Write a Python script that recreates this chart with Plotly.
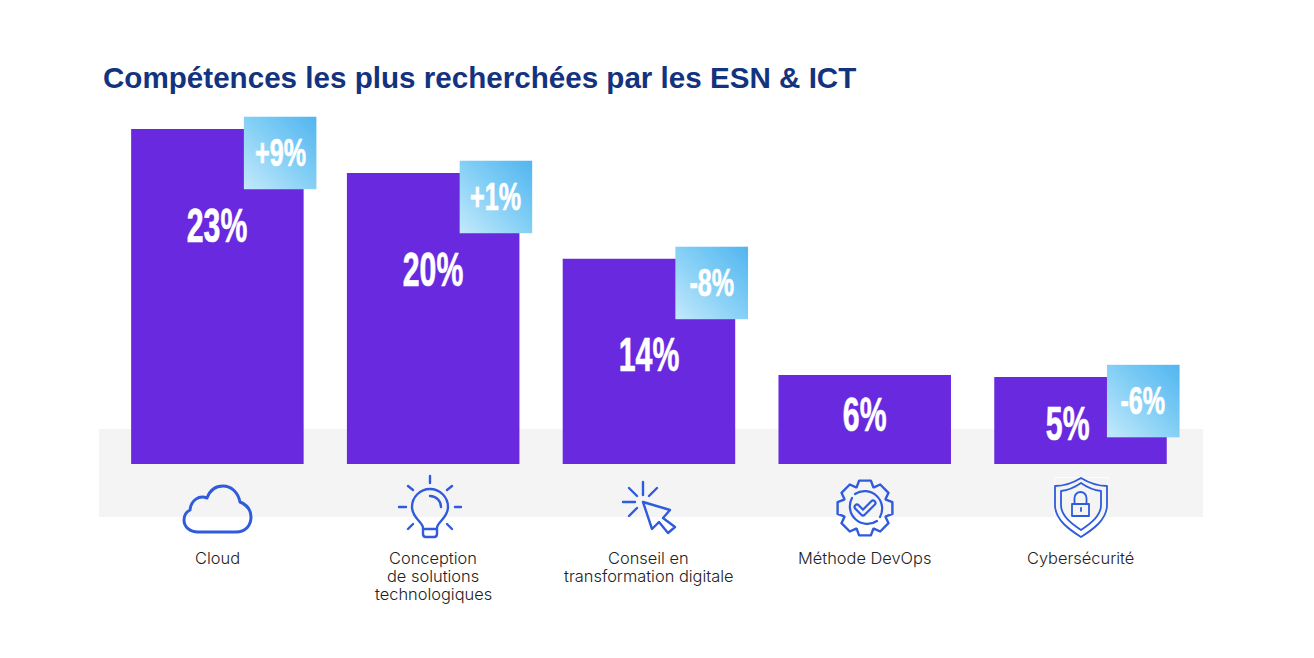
import base64
import math
import plotly.graph_objects as go

# ---- data ----
categories = ["Cloud", "Conception\nde solutions\ntechnologiques", "Conseil en\ntransformation digitale",
              "Méthode DevOps", "Cybersécurité"]
bar_heights = [23.0, 19.98, 14.08, 6.1, 5.97]
bar_labels = ["23%", "20%", "14%", "6%", "5%"]
deltas = ["+9%", "+1%", "-8%", None, "-6%"]
title_text = "Compétences les plus recherchées par les ESN & ICT"

# ---- styling ----
PURPLE = "#6829DF"
BLUE = "#2F5BDC"
NAVY = "#14337F"
BAND = "#F4F4F4"
W, H = 1314, 658
X0, X1 = 109.5, 1188.4      # pixel extents of the bar axis
Y_BASE, PX_PER_UNIT = 464, 14.57
CAT_PX = (X1 - X0) / 5
BAR_PX = 172.5
SQ_PX = 73
SQ_OUT = 13
SQ_OUT_Y = 12.4
label_yshift = [-97, -97, -96, -39, -46]
label_xshift = [0, 0, 0, 0, -13]
NUM_FONT = "Liberation Sans, sans-serif"

def uri(svg):
    return "data:image/svg+xml;base64," + base64.b64encode(svg.encode()).decode()

gradient_svg = ('<svg xmlns="http://www.w3.org/2000/svg" width="73" height="73" viewBox="0 0 73 73">'
                '<defs><linearGradient id="g" x1="0" y1="1" x2="1" y2="0">'
                '<stop offset="0" stop-color="#C4E9FB"/><stop offset="0.55" stop-color="#7FCDF5"/>'
                '<stop offset="1" stop-color="#52B5EF"/></linearGradient></defs>'
                '<rect width="73" height="73" fill="url(#g)"/></svg>')

def gear_path(cx, cy, r_out, r_in, teeth):
    pts = []
    step = 2 * math.pi / teeth
    for k in range(teeth):
        a = k * step
        for da, r in ((-0.30, r_in), (-0.17, r_out), (0.17, r_out), (0.30, r_in)):
            pts.append((cx + r * math.cos(a + da * step * 1.6), cy + r * math.sin(a + da * step * 1.6)))
    return "M" + " L".join(f"{x:.1f},{y:.1f}" for x, y in pts) + " Z"

icons_svg = f'''<svg xmlns="http://www.w3.org/2000/svg" width="{W}" height="{H}" viewBox="0 0 {W} {H}">
<rect x="1054.5" y="477.5" width="53" height="60" fill="none" stroke="#fff" stroke-width="0.8"/>
<g fill="none" stroke="{BLUE}" stroke-linecap="round" stroke-linejoin="round">
<path stroke-width="3" d="M198,532 H236 C246,532 251,525 251,517 C251,510 247,505 240,502 C238,492 231,486 223,486 C216,486 210,490 207,498 C199,495 191,500 190,510 C186,512 184,516 184,520 C184,527 190,532 198,532 Z"/>
<g stroke-width="2.4">
<path d="M430,476 V483 M408,486 L413,490 M452,486 L447,490 M399,507 H406 M455,507 H461 M408,529 L413,524 M452,529 L447,524"/>
<path d="M423,528 C423,522 412,518 412,507 A18,18 0 1 1 448,507 C448,518 437,522 437,528 V534 Q437,537 434,537 H426 Q423,537 423,534 Z M423,529 H437 M430,496 A11,11 0 0 1 441,507"/>
<path d="M643,502 L670,510 L663,518 L675,527 L668,533 L659,522 L652,529 Z M643,482 V495 M623,502 H635 M629,488 L637,496 M657,488 L649,496 M629,516 L637,508"/>
</g>
<path stroke-width="2.4" d="{gear_path(865, 508, 28, 22.5, 8)}"/>
<path stroke-width="2.2" d="M852,498 A17.5,17.5 0 0 0 877,521 M880,517 A17.5,17.5 0 0 0 855,494"/>
<path stroke-width="7" d="M857,507 L863,513 L873,503"/>
<path stroke-width="2.6" stroke="{BAND}" d="M857,507 L863,513 L873,503"/>
<g stroke-width="1.8">
<path d="M1081,478 Q1068,486 1055,486 V505 C1055,520 1070,530 1081,537 C1092,530 1107,520 1107,505 V486 Q1094,486 1081,478 Z"/>
<path d="M1081,483 Q1071,490 1061,491 V505 C1061,516 1072,524 1081,530 C1090,524 1101,516 1101,505 V491 Q1091,490 1081,483 Z"/>
<path d="M1072,504 H1089 V516 H1072 Z M1074.5,504 V498 A6,6 0 0 1 1086.5,498 V504 M1081,508 V511"/>
</g></g></svg>'''

xs = list(range(len(categories)))
fig = go.Figure()
# pixel overlay subplot (first, so the grey band lies below the bars)
fig.add_trace(go.Scatter(x=[0], y=[0], xaxis="x", yaxis="y", mode="markers",
                         marker=dict(opacity=0), hoverinfo="skip", showlegend=False))
fig.add_trace(go.Bar(x=xs, y=bar_heights, xaxis="x2", yaxis="y2", width=BAR_PX / CAT_PX,
                     marker=dict(color=PURPLE, line=dict(width=0)), hoverinfo="skip", showlegend=False))

shapes = [dict(type="rect", xref="x", yref="y", x0=99, x1=1203, y0=429, y1=517,
               fillcolor=BAND, line=dict(width=0), layer="below")]

images = [dict(source=uri(icons_svg), xref="x", yref="y", x=0, y=0, sizex=W, sizey=H,
               xanchor="left", yanchor="top", sizing="stretch", layer="above")]

annotations = [dict(text=f"<b>{title_text}</b>", xref="x", yref="y", x=100.5, y=77, xanchor="left", yanchor="middle",
                    showarrow=False, font=dict(family="Liberation Sans, Arial, sans-serif", size=29.6, color=NAVY))]

half_bar = BAR_PX / 2 / CAT_PX
sq_w = SQ_PX / CAT_PX
sq_h = SQ_PX / PX_PER_UNIT
out_x = SQ_OUT / CAT_PX
out_y = SQ_OUT_Y / PX_PER_UNIT
for i, (v, lab, d, cat) in enumerate(zip(bar_heights, bar_labels, deltas, categories)):
    annotations.append(dict(text=f"<b>{lab}</b>", xref="x2", yref="y2", x=i, y=v, yshift=label_yshift[i],
                            xshift=label_xshift[i], showarrow=False, xanchor="center", yanchor="middle",
                            font=dict(family=NUM_FONT, size=48, color="white")))
    if d:
        left = i + half_bar + out_x - sq_w
        top = v + out_y
        images.append(dict(source=uri(gradient_svg), xref="x2", yref="y2", x=left, y=top, sizex=sq_w, sizey=sq_h,
                           xanchor="left", yanchor="top", sizing="stretch", layer="above"))
        annotations.append(dict(text=f"<b>{d}</b>", xref="x2", yref="y2", x=left + sq_w / 2, y=top - sq_h / 2,
                                showarrow=False, xanchor="center", yanchor="middle",
                                font=dict(family=NUM_FONT, size=38, color="white")))
    for k, line in enumerate(cat.split("\n")):
        annotations.append(dict(text=line, xref="x2", yref="y", x=i, y=558 + 18 * k, showarrow=False,
                                xanchor="center", yanchor="middle",
                                font=dict(family="Inter, Liberation Sans, sans-serif", size=16.4, color="#222222",
                                          weight=300)))

hidden = dict(visible=False, fixedrange=True)
fig.update_layout(
    width=W, height=H, margin=dict(l=0, r=0, t=0, b=0), autosize=False,
    paper_bgcolor="white", plot_bgcolor="rgba(0,0,0,0)", showlegend=False,
    xaxis=dict(domain=[0, 1], range=[0, W], anchor="y", **hidden),
    yaxis=dict(domain=[0, 1], range=[H, 0], anchor="x", **hidden),
    xaxis2=dict(domain=[X0 / W, X1 / W], range=[-0.5, 4.5], anchor="y2", **hidden),
    yaxis2=dict(domain=[(H - Y_BASE) / H, (H - Y_BASE + 350) / H], range=[0, 350 / PX_PER_UNIT], anchor="x2", **hidden),
    shapes=shapes, images=images, annotations=annotations,
)
# the reference numbers use a tall condensed face that is not installed: condense the real text horizontally
condense = """
document.body.style.margin='0';document.body.style.overflow='hidden';
document.querySelectorAll('text.annotation-text').forEach(function(t){
  if(t.textContent.indexOf('%')<0) return;
  var big=parseFloat(t.style.fontSize)>=45;
  t.style.transformBox='fill-box';
  t.style.transformOrigin='center';
  t.style.transform='scaleX('+(big?0.63:0.66)+')';
  t.style.stroke='white';
  t.style.strokeWidth='0.7px';
});
"""
fig.write_html("out.html", config=dict(displayModeBar=False), post_script=condense)
